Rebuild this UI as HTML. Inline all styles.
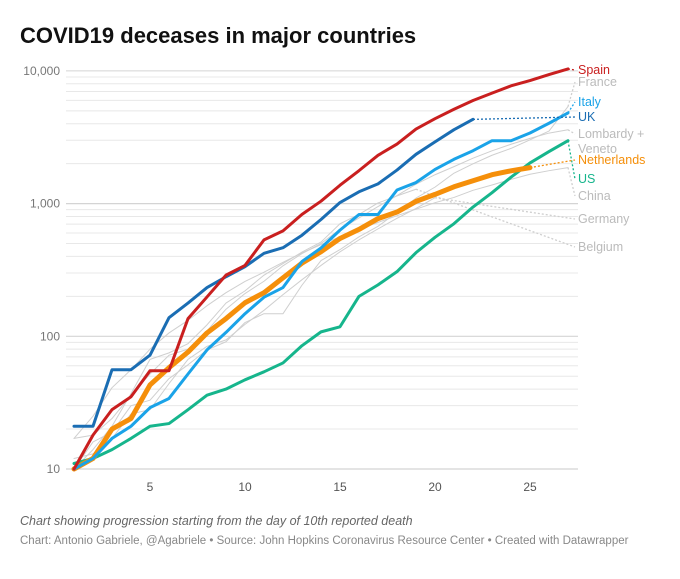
<!DOCTYPE html>
<html><head><meta charset="utf-8"><style>
body{margin:0;background:#fff;width:680px;height:574px;overflow:hidden;font-family:"Liberation Sans",sans-serif}
</style></head><body>
<svg id="c" width="680" height="574">
<text x="20" y="43" font-size="22" font-weight="bold" fill="#111">COVID19 deceases in major countries</text>
<text x="20" y="525" font-size="12.5" font-style="italic" fill="#666">Chart showing progression starting from the day of 10th reported death</text>
<text x="20" y="544" font-size="11.5" fill="#888">Chart: Antonio Gabriele, @Agabriele • Source: John Hopkins Coronavirus Resource Center • Created with Datawrapper</text>
<g id="grid"></g><g id="gray"></g><g id="main"></g><g id="labels"></g>
</svg>
<script>
const days=[1,2,3,4,5,6,7,8,9,10,11,12,13,14,15,16,17,18,19,20,21,22,23,24,25,26,27];
const yTicks=[10,100,1000,10000];
const yTickLabels=["10","100","1,000","10,000"];
const xTicks=[5,10,15,20,25];
const spain=[10,18,28,35,55,55,136,198,289,342,533,623,830,1043,1375,1772,2311,2808,3647,4365,5138,5982,6803,7716,8464,9387,10348];
const uk=[21,21,56,56,72,138,178,233,281,335,422,465,578,759,1019,1228,1408,1789,2352,2921,3605,4313];
const italy=[10,12,17,21,29,34,52,79,107,148,197,233,366,463,631,827,827,1266,1441,1809,2158,2503,2978,2978,3405,4032,4825];
const netherlands=[10,12,20,24,43,58,76,106,136,179,213,276,356,434,546,639,771,864,1039,1173,1339,1487,1651,1766,1867];
const us=[11,12,14,17,21,22,28,36,40,47,54,63,85,108,118,200,244,307,427,557,706,942,1209,1581,2026,2467,2978];
const france=[10,16,19,30,33,48,61,79,91,127,148,148,243,372,450,562,674,860,1100,1331,1696,1995,2314,2606,3024,3523,5387];
const lombardy=[17,18,24,36,52,72,80,110,160,210,260,340,420,500,640,780,950,1150,1400,1650,1900,2200,2500,2800,3100,3400,3600];
const china=[17,25,41,56,80,106,132,170,213,259,304,361,425,490,563,637,722,811,908,1016,1113,1259,1380,1523,1665,1770,1868];
const germany=[12,13,17,26,28,44,67,84,94,123,157,206,267,342,433,533,645,775,920,1107];
const belgium=[10,14,21,37,67,75,88,122,178,220,289,353,431,513,705,828,1011,1143,1283];
const NS="http://www.w3.org/2000/svg";
const X=d=>74+(d-1)*19;
const Y=v=>469-(Math.log10(v)-1)*132.7;
function mk(t,a,p){const e=document.createElementNS(NS,t);for(const k in a)e.setAttribute(k,a[k]);p.appendChild(e);return e;}
const grid=document.getElementById('grid');
for(let dec=10;dec<10000;dec*=10)for(let m=1;m<10;m++){const v=dec*m;
 const l=mk('line',{x1:66,x2:578,y1:Y(v),y2:Y(v),stroke:m==1?'#d4d4d4':'#e8e8e8','stroke-width':m==1?1.2:1},grid);
 
 }
const tl=mk('line',{x1:66,x2:578,y1:Y(10000),y2:Y(10000),stroke:'#d4d4d4'},grid);


yTicks.forEach((v,i)=>{const t=mk('text',{x:60,y:Y(v)+4,'text-anchor':'end','font-size':12,fill:'#777'},grid);t.textContent=yTickLabels[i];
 
 });
xTicks.forEach(d=>{const t=mk('text',{x:X(d),y:491,'text-anchor':'middle','font-size':12,fill:'#555'},grid);t.textContent=d;
 
 });
const series=[
 {n:'belgium',d:belgium,c:'#cfcfcf',w:1,lab:[['Belgium',251]],g:1},
 {n:'germany',d:germany,c:'#cfcfcf',w:1,lab:[['Germany',223]],g:1},
 {n:'china',d:china,c:'#cfcfcf',w:1,lab:[['China',200]],g:1},
 {n:'lombardy-veneto',d:lombardy,c:'#cfcfcf',w:1,lab:[['Lombardy +',138],['Veneto',153]],g:1},
 {n:'france',d:france,c:'#cfcfcf',w:1,lab:[['France',86]],g:1},
 {n:'us',d:us,c:'#16b58c',w:3,lab:[['US',183]]},
 {n:'netherlands',d:netherlands,c:'#f58f0a',w:5,lab:[['Netherlands',164]]},
 {n:'italy',d:italy,c:'#1aa3e8',w:3,lab:[['Italy',106]]},
 {n:'uk',d:uk,c:'#1a6db3',w:3,lab:[['UK',121]]},
 {n:'spain',d:spain,c:'#c91f1f',w:3,lab:[['Spain',74]]}];
const gray=document.getElementById('gray'),main=document.getElementById('main'),labs=document.getElementById('labels');
series.forEach(s=>{const p=s.g?gray:main;
 const pts=s.d.map((v,i)=>X(days[i])+','+Y(v)).join(' ');
 const pl=mk('polyline',{points:pts,fill:'none',stroke:s.c,'stroke-width':s.w,'stroke-linejoin':'round','stroke-linecap':'round'},p);
 
 
 const li=s.d.length-1,ex=X(days[li]),ey=Y(s.d[li]),ly=s.lab[0][1]-4;
 if(Math.abs(ex-574)>2||Math.abs(ey-ly)>5){const dl=mk('line',{x1:ex,y1:ey,x2:575,y2:ly,stroke:s.c,'stroke-width':1.3,'stroke-dasharray':'2,2'},p);
  
  }
 s.lab.forEach(([t,y])=>{const e=mk('text',{x:578,y:y,'font-size':12.5,fill:s.g?'#bbb':s.c},labs);e.textContent=t;
  
  });
});
</script>
</body></html>
